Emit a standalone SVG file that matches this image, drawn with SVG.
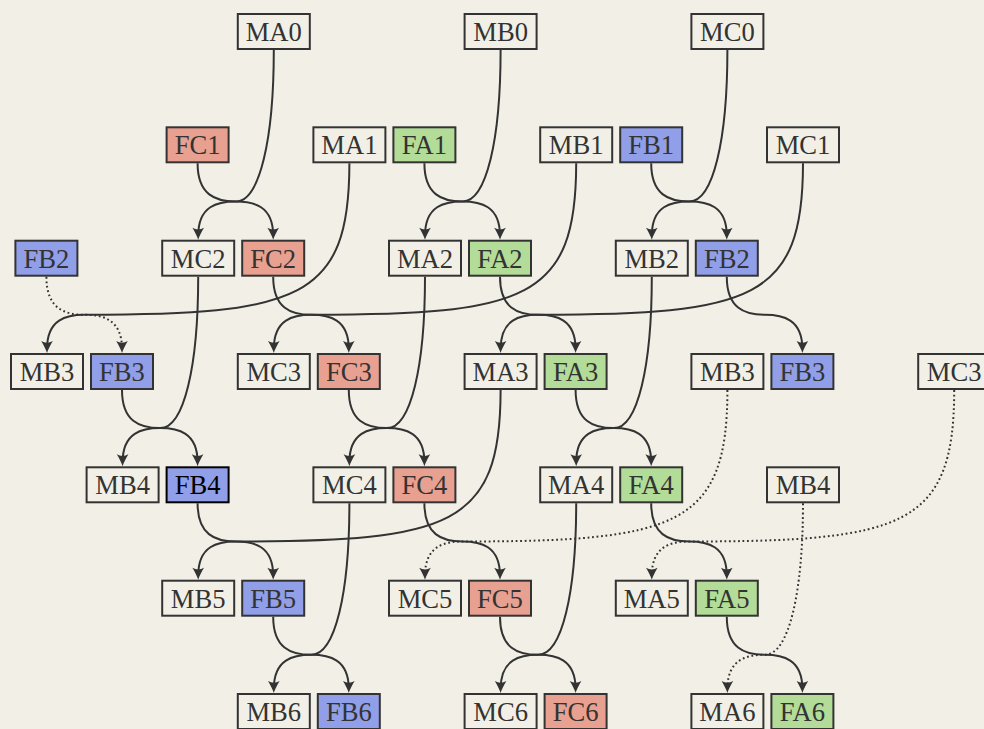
<svg xmlns="http://www.w3.org/2000/svg" width="984" height="729" viewBox="0 0 984 729">
<defs>
<style>
.m{fill:#f2f0e6;stroke:#333;stroke-width:2}
.fa{fill:#b2dc98;stroke:#333;stroke-width:2}
.fb{fill:#919fe8;stroke:#333;stroke-width:2}
.fc{fill:#e8a090;stroke:#333;stroke-width:2}
rect.hl{stroke:#000}
text{font-family:"Liberation Serif","Times New Roman",serif;font-size:26.6px;fill:#333;text-anchor:middle}
text.hl{fill:#000}
.e{fill:none;stroke:#333;stroke-width:2;marker-end:url(#ah)}
.d{stroke-dasharray:1.8 2.7}
</style>
<marker id="ah" markerUnits="userSpaceOnUse" markerWidth="20" markerHeight="20" refX="0" refY="0" orient="auto" overflow="visible">
<path d="M4,0 C0.5,-1 -4,-3.5 -8,-5.8 Q-4.5,0 -8,5.8 C-4,3.5 0.5,1 4,0 Z" fill="#333"/>
</marker>
</defs>
<rect x="0" y="0" width="984" height="729" fill="#f2f0e6"/>
<g id="nodes">
<g id="MA0"><rect class="m" x="237.8" y="14" width="72" height="35"/><text x="273.8" y="41">MA0</text></g>
<g id="MB0"><rect class="m" x="464.6" y="14" width="72" height="35"/><text x="500.6" y="41">MB0</text></g>
<g id="MC0"><rect class="m" x="691.4" y="14" width="72" height="35"/><text x="727.4" y="41">MC0</text></g>

<g id="FC1"><rect class="fc" x="166.6" y="127.3" width="62" height="35"/><text x="197.6" y="154.3">FC1</text></g>
<g id="MA1"><rect class="m" x="313.4" y="127.3" width="72" height="35"/><text x="349.4" y="154.3">MA1</text></g>
<g id="FA1"><rect class="fa" x="393.4" y="127.3" width="62" height="35"/><text x="424.4" y="154.3">FA1</text></g>
<g id="MB1"><rect class="m" x="540.2" y="127.3" width="72" height="35"/><text x="576.2" y="154.3">MB1</text></g>
<g id="FB1"><rect class="fb" x="620.2" y="127.3" width="62" height="35"/><text x="651.2" y="154.3">FB1</text></g>
<g id="MC1"><rect class="m" x="767" y="127.3" width="72" height="35"/><text x="803" y="154.3">MC1</text></g>

<g id="FB2-a"><rect class="fb" x="15.4" y="240.7" width="62" height="35"/><text x="46.4" y="267.7">FB2</text></g>
<g id="MC2"><rect class="m" x="162.2" y="240.7" width="72" height="35"/><text x="198.2" y="267.7">MC2</text></g>
<g id="FC2"><rect class="fc" x="242.2" y="240.7" width="62" height="35"/><text x="273.2" y="267.7">FC2</text></g>
<g id="MA2"><rect class="m" x="389" y="240.7" width="72" height="35"/><text x="425" y="267.7">MA2</text></g>
<g id="FA2"><rect class="fa" x="469" y="240.7" width="62" height="35"/><text x="500" y="267.7">FA2</text></g>
<g id="MB2"><rect class="m" x="615.8" y="240.7" width="72" height="35"/><text x="651.8" y="267.7">MB2</text></g>
<g id="FB2-b"><rect class="fb" x="695.8" y="240.7" width="62" height="35"/><text x="726.8" y="267.7">FB2</text></g>

<g id="MB3-a"><rect class="m" x="11" y="354" width="72" height="35"/><text x="47" y="381">MB3</text></g>
<g id="FB3-a"><rect class="fb" x="91" y="354" width="62" height="35"/><text x="122" y="381">FB3</text></g>
<g id="MC3-a"><rect class="m" x="237.8" y="354" width="72" height="35"/><text x="273.8" y="381">MC3</text></g>
<g id="FC3"><rect class="fc" x="317.8" y="354" width="62" height="35"/><text x="348.8" y="381">FC3</text></g>
<g id="MA3"><rect class="m" x="464.6" y="354" width="72" height="35"/><text x="500.6" y="381">MA3</text></g>
<g id="FA3"><rect class="fa" x="544.6" y="354" width="62" height="35"/><text x="575.6" y="381">FA3</text></g>
<g id="MB3-b"><rect class="m" x="691.4" y="354" width="72" height="35"/><text x="727.4" y="381">MB3</text></g>
<g id="FB3-b"><rect class="fb" x="771.4" y="354" width="62" height="35"/><text x="802.4" y="381">FB3</text></g>
<g id="MC3-b"><rect class="m" x="918.2" y="354" width="72" height="35"/><text x="954.2" y="381">MC3</text></g>

<g id="MB4-a"><rect class="m" x="86.6" y="467.3" width="72" height="35"/><text x="122.6" y="494.3">MB4</text></g>
<g id="FB4"><rect class="fb hl" x="166.6" y="467.3" width="62" height="35"/><text class="hl" x="197.6" y="494.3">FB4</text></g>
<g id="MC4"><rect class="m" x="313.4" y="467.3" width="72" height="35"/><text x="349.4" y="494.3">MC4</text></g>
<g id="FC4"><rect class="fc" x="393.4" y="467.3" width="62" height="35"/><text x="424.4" y="494.3">FC4</text></g>
<g id="MA4"><rect class="m" x="540.2" y="467.3" width="72" height="35"/><text x="576.2" y="494.3">MA4</text></g>
<g id="FA4"><rect class="fa" x="620.2" y="467.3" width="62" height="35"/><text x="651.2" y="494.3">FA4</text></g>
<g id="MB4-b"><rect class="m" x="767" y="467.3" width="72" height="35"/><text x="803" y="494.3">MB4</text></g>

<g id="MB5"><rect class="m" x="162.2" y="580.7" width="72" height="35"/><text x="198.2" y="607.7">MB5</text></g>
<g id="FB5"><rect class="fb" x="242.2" y="580.7" width="62" height="35"/><text x="273.2" y="607.7">FB5</text></g>
<g id="MC5"><rect class="m" x="389" y="580.7" width="72" height="35"/><text x="425" y="607.7">MC5</text></g>
<g id="FC5"><rect class="fc" x="469" y="580.7" width="62" height="35"/><text x="500" y="607.7">FC5</text></g>
<g id="MA5"><rect class="m" x="615.8" y="580.7" width="72" height="35"/><text x="651.8" y="607.7">MA5</text></g>
<g id="FA5"><rect class="fa" x="695.8" y="580.7" width="62" height="35"/><text x="726.8" y="607.7">FA5</text></g>

<g id="MB6"><rect class="m" x="237.8" y="694" width="72" height="35"/><text x="273.8" y="721">MB6</text></g>
<g id="FB6"><rect class="fb" x="317.8" y="694" width="62" height="35"/><text x="348.8" y="721">FB6</text></g>
<g id="MC6"><rect class="m" x="464.6" y="694" width="72" height="35"/><text x="500.6" y="721">MC6</text></g>
<g id="FC6"><rect class="fc" x="544.6" y="694" width="62" height="35"/><text x="575.6" y="721">FC6</text></g>
<g id="MA6"><rect class="m" x="691.4" y="694" width="72" height="35"/><text x="727.4" y="721">MA6</text></g>
<g id="FA6"><rect class="fa" x="771.4" y="694" width="62" height="35"/><text x="802.4" y="721">FA6</text></g>
</g>
<g id="connectors">
<path class="e" d="M273.8 50 C273.8 139.4 259.7 201.5 235.7 201.5 C218.1 201.5 198.2 205.5 198.2 235.7"/>
<path class="e" d="M197.6 163.3 C197.6 194.6 215.1 201.5 235.7 201.5 C253.3 201.5 273.2 205.5 273.2 235.7"/>
<path class="e" d="M500.6 50 C500.6 139.4 486.5 201.5 462.5 201.5 C444.9 201.5 425 205.5 425 235.7"/>
<path class="e" d="M424.4 163.3 C424.4 194.6 441.9 201.5 462.5 201.5 C480.1 201.5 500 205.5 500 235.7"/>
<path class="e" d="M727.4 50 C727.4 139.4 713.3 201.5 689.3 201.5 C671.7 201.5 651.8 205.5 651.8 235.7"/>
<path class="e" d="M651.2 163.3 C651.2 194.6 668.7 201.5 689.3 201.5 C706.9 201.5 726.8 205.5 726.8 235.7"/>

<path class="e" d="M349.4 163.3 C349.4 299.6 299.1 314.8 84.5 314.8 C66.9 314.8 47 318.8 47 349"/>
<path class="e d" d="M46.4 276.7 C46.4 308 63.9 314.8 84.5 314.8 C102.1 314.8 122 318.8 122 349"/>
<path class="e" d="M576.2 163.3 C576.2 299.6 525.9 314.8 311.3 314.8 C293.7 314.8 273.8 318.8 273.8 349"/>
<path class="e" d="M273.2 276.7 C273.2 308 290.7 314.8 311.3 314.8 C328.9 314.8 348.8 318.8 348.8 349"/>
<path class="e" d="M803 163.3 C803 299.6 752.7 314.8 538.1 314.8 C520.5 314.8 500.6 318.8 500.6 349"/>
<path class="e" d="M500 276.7 C500 308 517.5 314.8 538.1 314.8 C555.7 314.8 575.6 318.8 575.6 349"/>
<path class="e" d="M726.8 276.7 C726.8 308 744.3 314.8 764.9 314.8 C782.5 314.8 802.4 318.8 802.4 349"/>

<path class="e" d="M198.2 276.7 C198.2 366.1 184.1 428.1 160.1 428.1 C142.5 428.1 122.6 432.1 122.6 462.3"/>
<path class="e" d="M122 390 C122 421.3 139.5 428.1 160.1 428.1 C177.7 428.1 197.6 432.1 197.6 462.3"/>
<path class="e" d="M425 276.7 C425 366.1 410.9 428.1 386.9 428.1 C369.3 428.1 349.4 432.1 349.4 462.3"/>
<path class="e" d="M348.8 390 C348.8 421.3 366.3 428.1 386.9 428.1 C404.5 428.1 424.4 432.1 424.4 462.3"/>
<path class="e" d="M651.8 276.7 C651.8 366.1 637.7 428.1 613.7 428.1 C596.1 428.1 576.2 432.1 576.2 462.3"/>
<path class="e" d="M575.6 390 C575.6 421.3 593.1 428.1 613.7 428.1 C631.3 428.1 651.2 432.1 651.2 462.3"/>

<path class="e" d="M500.6 390 C500.6 526.3 450.3 541.5 235.7 541.5 C218.1 541.5 198.2 545.5 198.2 575.7"/>
<path class="e" d="M197.6 503.3 C197.6 534.6 215.1 541.5 235.7 541.5 C253.3 541.5 273.2 545.5 273.2 575.7"/>
<path class="e d" d="M727.4 390 C727.4 526.3 677.1 541.5 462.5 541.5 C444.9 541.5 425 545.5 425 575.7"/>
<path class="e" d="M424.4 503.3 C424.4 534.6 441.9 541.5 462.5 541.5 C480.1 541.5 500 545.5 500 575.7"/>
<path class="e d" d="M954.2 390 C954.2 526.3 903.9 541.5 689.3 541.5 C671.7 541.5 651.8 545.5 651.8 575.7"/>
<path class="e" d="M651.2 503.3 C651.2 534.6 668.7 541.5 689.3 541.5 C706.9 541.5 726.8 545.5 726.8 575.7"/>

<path class="e" d="M349.4 503.3 C349.4 592.7 335.3 654.8 311.3 654.8 C293.7 654.8 273.8 658.8 273.8 689"/>
<path class="e" d="M273.2 616.7 C273.2 648 290.7 654.8 311.3 654.8 C328.9 654.8 348.8 658.8 348.8 689"/>
<path class="e" d="M576.2 503.3 C576.2 592.7 562.1 654.8 538.1 654.8 C520.5 654.8 500.6 658.8 500.6 689"/>
<path class="e" d="M500 616.7 C500 648 517.5 654.8 538.1 654.8 C555.7 654.8 575.6 658.8 575.6 689"/>
<path class="e d" d="M803 503.3 C803 592.7 788.9 654.8 764.9 654.8 C747.3 654.8 727.4 658.8 727.4 689"/>
<path class="e" d="M726.8 616.7 C726.8 648 744.3 654.8 764.9 654.8 C782.5 654.8 802.4 658.8 802.4 689"/>
</g>
</svg>
